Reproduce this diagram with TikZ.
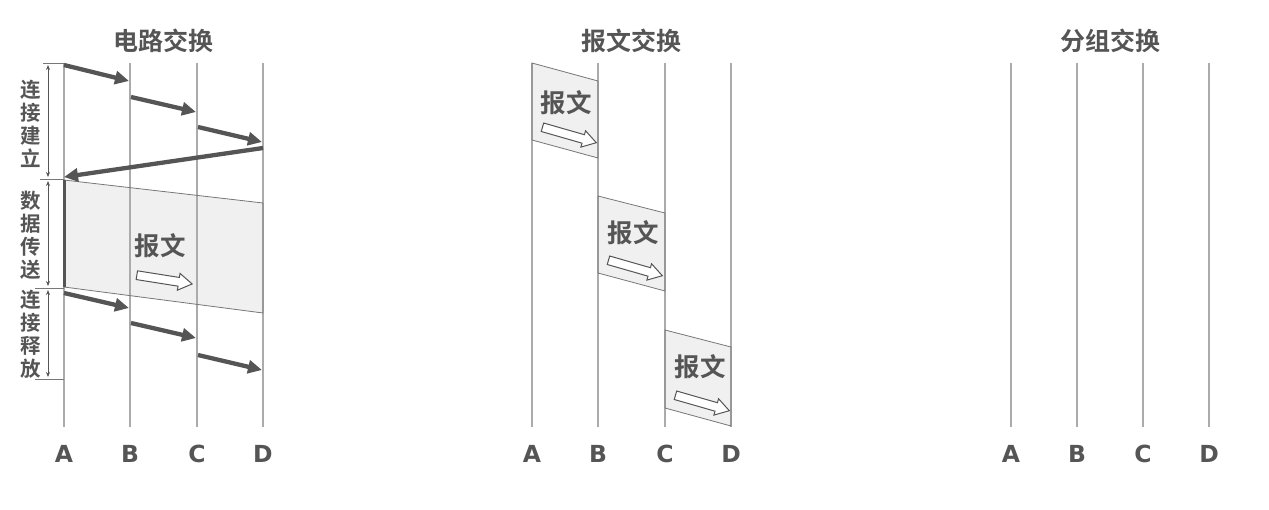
\documentclass[tikz,border=0pt]{standalone}
\usepackage{fontspec}
\newfontfamily\cjk{Noto Sans CJK SC}[BoldFont={Noto Sans CJK SC Bold}]
\newfontfamily\lat{DejaVu Sans}[BoldFont={DejaVu Sans Bold}]
\usetikzlibrary{shapes.arrows,arrows.meta}
\definecolor{ink}{HTML}{555555}
\definecolor{lifec}{HTML}{ABABAB}
\definecolor{blkfill}{HTML}{F0F0F0}
\definecolor{edgec}{HTML}{777777}
\begin{document}
\begin{tikzpicture}[x=1pt,y=-1pt,
  lifeline/.style={draw=lifec,line width=2pt},
  sig/.style={draw=ink,line width=4.3pt,-{Triangle[length=14pt,width=13pt]}},
  blockfill/.style={fill=blkfill,draw=none},
  blockedge/.style={draw=edgec,line width=0.8pt},
  title/.style={font=\cjk\bfseries\fontsize{25}{29}\selectfont,text=ink,inner sep=0pt},
  msg/.style={font=\cjk\bfseries\fontsize{25.5}{29}\selectfont,text=ink,inner sep=0pt},
  lbl/.style={font=\lat\bfseries\fontsize{23.5}{27}\selectfont,text=ink,inner sep=0pt},
  vlab/.style={font=\cjk\bfseries\fontsize{20.5}{23}\selectfont,text=ink,align=center,inner sep=0pt},
  hollow/.style={single arrow,draw=ink,fill=white,line width=1pt,minimum height=56pt,
    minimum width=17pt,inner sep=3.8pt,single arrow tip angle=64,single arrow head extend=4pt},
  span/.style={draw=ink,line width=0.9pt,{Stealth[length=5pt,width=4pt]}-{Stealth[length=5pt,width=4pt]}},
  tick/.style={draw=edgec,line width=0.8pt}]
\useasboundingbox (0,0) rectangle (1269,509);

% lifeline coordinates and labels
\foreach \p/\a/\b/\c/\d in {L/64/130/197/263, M/532/598/665/731, R/1011/1077/1143/1209}{
  \foreach \n/\x in {A/\a,B/\b,C/\c,D/\d}{
    \coordinate (\p\n t) at (\x,63);
    \coordinate (\p\n b) at (\x,427);
    \node[lbl] (\p\n) at (\x,454) {\n};
  }
}

% titles
\node[title] (t1) at (163,41) {电路交换};
\node[title] (t2) at (631,41) {报文交换};
\node[title] (t3) at (1110,41) {分组交换};

% block corners
\coordinate (b0a) at (64,180);  \coordinate (b0b) at (263,203);
\coordinate (b0c) at (263,313); \coordinate (b0d) at (64,287);
\coordinate (m1a) at (532,63);  \coordinate (m1b) at (598,81);
\coordinate (m1c) at (598,158); \coordinate (m1d) at (532,140);
\coordinate (m2a) at (598,196); \coordinate (m2b) at (665,213);
\coordinate (m2c) at (665,291); \coordinate (m2d) at (598,273);
\coordinate (m3a) at (665,330); \coordinate (m3b) at (731,347);
\coordinate (m3c) at (731,426); \coordinate (m3d) at (665,408);

\foreach \k in {b0,m1,m2,m3}{
  \path[blockfill] (\k a) -- (\k b) -- (\k c) -- (\k d) -- cycle;
}

% lifelines
\foreach \p in {L,M,R}{
  \foreach \n in {A,B,C,D}{
    \draw[lifeline] (\p\n t) -- (\p\n b);
  }
}

% block outlines
\foreach \k in {b0,m1,m2,m3}{
  \draw[blockedge] (\k a) -- (\k b) -- (\k c) -- (\k d) -- cycle;
}
\draw[draw=ink,line width=3pt] (b0a) -- (b0d);

% circuit switching signals
\coordinate (s1a) at (64,65);   \coordinate (s1b) at (129,81);
\coordinate (s2a) at (131,97);  \coordinate (s2b) at (196,112);
\coordinate (s3a) at (198,127); \coordinate (s3b) at (262,142);
\coordinate (r1a) at (263,148); \coordinate (r1b) at (64,177);
\coordinate (s4a) at (64,293);  \coordinate (s4b) at (129,308);
\coordinate (s5a) at (131,323); \coordinate (s5b) at (196,338);
\coordinate (s6a) at (198,355); \coordinate (s6b) at (262,370);
\draw[sig] (s1a) -- (s1b);
\draw[sig] (s2a) -- (s2b);
\draw[sig] (s3a) -- (s3b);
\draw[sig] (r1a) -- (r1b);
\draw[sig] (s4a) -- (s4b);
\draw[sig] (s5a) -- (s5b);
\draw[sig] (s6a) -- (s6b);

% message texts and hollow arrows
\node[msg] (x0) at (160,246) {报文};
\node[hollow,rotate=-9] (h0) at (161,279) {};
\node[msg] (x1) at (566,103) {报文};
\node[hollow,rotate=-16] (h1) at (566,134) {};
\node[msg] (x2) at (633,233) {报文};
\node[hollow,rotate=-16] (h2) at (632,267) {};
\node[msg] (x3) at (700,367) {报文};
\node[hollow,rotate=-16] (h3) at (699,402) {};

% phase brackets
\coordinate (k0a) at (43,63);  \coordinate (k0b) at (64,63);
\coordinate (k1a) at (40,179); \coordinate (k1b) at (64,179);
\coordinate (k2a) at (35,288); \coordinate (k2b) at (64,288);
\coordinate (k3a) at (35,379); \coordinate (k3b) at (64,379);
\draw[tick] (k0a) -- (k0b);
\draw[tick] (k1a) -- (k1b);
\draw[tick] (k2a) -- (k2b);
\draw[tick] (k3a) -- (k3b);
\coordinate (p1a) at (48,65);  \coordinate (p1b) at (48,177);
\coordinate (p2a) at (48,181); \coordinate (p2b) at (48,286);
\coordinate (p3a) at (48,290); \coordinate (p3b) at (48,377);
\draw[span] (p1a) -- (p1b);
\draw[span] (p2a) -- (p2b);
\draw[span] (p3a) -- (p3b);

\node[vlab] (v1) at (31,124) {连\\接\\建\\立};
\node[vlab] (v2) at (31,235) {数\\据\\传\\送};
\node[vlab] (v3) at (31,334) {连\\接\\释\\放};
\end{tikzpicture}
\end{document}
